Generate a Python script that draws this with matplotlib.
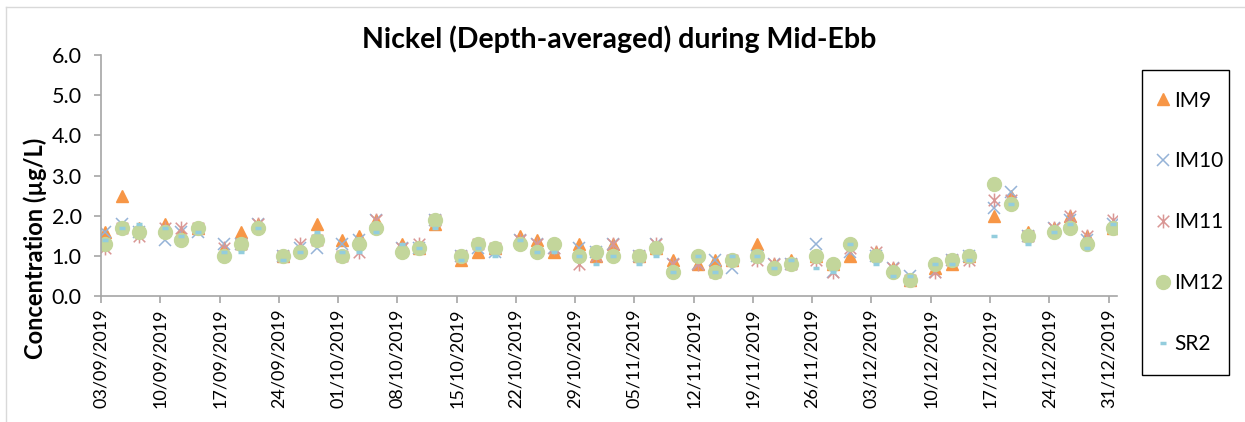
import numpy as np
import pandas as pd
import matplotlib
matplotlib.use("Agg")
import matplotlib.pyplot as plt
import matplotlib.dates as mdates
from matplotlib.path import Path
from matplotlib.lines import Line2D
from matplotlib.patches import Rectangle

plt.rcParams['font.family'] = ['Lato', 'DejaVu Sans']

# sampling days (Tue / Thu / Sat)
dates = ["03/09/2019", "05/09/2019", "07/09/2019", "10/09/2019", "12/09/2019", "14/09/2019",
         "17/09/2019", "19/09/2019", "21/09/2019", "24/09/2019", "26/09/2019", "28/09/2019",
         "01/10/2019", "03/10/2019", "05/10/2019", "08/10/2019", "10/10/2019", "12/10/2019",
         "15/10/2019", "17/10/2019", "19/10/2019", "22/10/2019", "24/10/2019", "26/10/2019",
         "29/10/2019", "31/10/2019", "02/11/2019", "05/11/2019", "07/11/2019", "09/11/2019",
         "12/11/2019", "14/11/2019", "16/11/2019", "19/11/2019", "21/11/2019", "23/11/2019",
         "26/11/2019", "28/11/2019", "30/11/2019", "03/12/2019", "05/12/2019", "07/12/2019",
         "10/12/2019", "12/12/2019", "14/12/2019", "17/12/2019", "19/12/2019", "21/12/2019",
         "24/12/2019", "26/12/2019", "28/12/2019", "31/12/2019"]

im9 = [1.6, 2.5, 1.7, 1.8, 1.6, 1.7, 1.2, 1.6, 1.8, 1.0, 1.2, 1.8,
       1.4, 1.5, 1.9, 1.3, 1.2, 1.8, 0.9, 1.1, 1.2, 1.5, 1.4, 1.1,
       1.3, 1.0, 1.3, 1.0, 1.2, 0.9, 0.8, 0.9, 0.9, 1.3, 0.8, 0.9,
       1.0, 0.8, 1.0, 1.1, 0.7, 0.4, 0.7, 0.8, 1.0, 2.0, 2.5, 1.6,
       1.7, 2.0, 1.5, 1.7]
im10 = [1.6, 1.8, 1.6, 1.4, 1.6, 1.6, 1.3, 1.3, 1.8, 1.0, 1.2, 1.2,
        1.3, 1.4, 1.9, 1.2, 1.2, 1.9, 1.0, 1.2, 1.1, 1.4, 1.3, 1.2,
        1.2, 1.1, 1.3, 1.0, 1.3, 0.8, 0.8, 0.9, 0.7, 1.0, 0.8, 0.8,
        1.3, 0.6, 1.1, 1.0, 0.7, 0.5, 0.6, 0.9, 1.0, 2.2, 2.6, 1.5,
        1.7, 1.9, 1.4, 1.8]
im11 = [1.2, 1.7, 1.5, 1.7, 1.7, 1.7, 1.2, 1.3, 1.8, 1.0, 1.3, 1.4,
        1.0, 1.1, 1.9, 1.2, 1.3, 1.9, 1.0, 1.3, 1.2, 1.4, 1.3, 1.2,
        0.8, 1.0, 1.3, 1.0, 1.3, 0.8, 0.8, 0.6, 0.9, 0.9, 0.8, 0.8,
        0.9, 0.6, 1.2, 1.1, 0.7, 0.4, 0.6, 0.9, 0.9, 2.4, 2.4, 1.5,
        1.7, 2.0, 1.5, 1.9]
im12 = [1.3, 1.7, 1.6, 1.6, 1.4, 1.7, 1.0, 1.3, 1.7, 1.0, 1.1, 1.4,
        1.0, 1.3, 1.7, 1.1, 1.2, 1.9, 1.0, 1.3, 1.2, 1.3, 1.1, 1.3,
        1.0, 1.1, 1.0, 1.0, 1.2, 0.6, 1.0, 0.6, 0.9, 1.0, 0.7, 0.8,
        1.0, 0.8, 1.3, 1.0, 0.6, 0.4, 0.8, 0.9, 1.0, 2.8, 2.3, 1.5,
        1.6, 1.7, 1.3, 1.7]
sr2 = [1.4, 1.7, 1.8, 1.7, 1.5, 1.6, 1.1, 1.1, 1.7, 0.9, 1.1, 1.6,
       1.1, 1.1, 1.6, 1.3, 1.2, 1.7, 0.9, 1.2, 1.0, 1.4, 1.1, 1.1,
       1.0, 0.8, 1.0, 0.8, 1.0, 0.6, 1.0, 0.6, 1.0, 1.0, 0.7, 0.9,
       0.7, 0.6, 1.3, 0.8, 0.5, 0.5, 0.8, 0.8, 0.9, 1.5, 2.3, 1.3,
       1.6, 1.8, 1.2, 1.8]

# asterisk marker: X plus a vertical bar
star = Path([(-0.5, -0.5), (0.5, 0.5), (-0.5, 0.5), (0.5, -0.5), (0, -0.6), (0, 0.6)],
            [Path.MOVETO, Path.LINETO, Path.MOVETO, Path.LINETO, Path.MOVETO, Path.LINETO])

series = [
    ("IM9", im9, dict(marker='^', ms=9, color='#F79646', mec='#F79646')),
    ("IM10", im10, dict(marker='x', ms=8, mew=1.1, color='#95B3D7')),
    ("IM11", im11, dict(marker=star, ms=10, mew=1.1, color='#D99694', mfc='none')),
    ("IM12", im12, dict(marker='o', ms=10, color='#C3D69B', mec='#C3D69B')),
    ("SR2", sr2, dict(marker='_', ms=5, mew=2.5, color='#93CDDD')),
]

x = mdates.date2num(pd.to_datetime(dates, dayfirst=True)) + 0.5
ticks = mdates.date2num(pd.date_range("2019-09-03", "2019-12-31", freq="7D"))

fig = plt.figure(figsize=(12.45, 4.22), dpi=100)
ax = fig.add_axes([101 / 1245, 1 - 296 / 422, 1016 / 1245, 241 / 422])

handles = []
for name, vals, style in series:
    ax.plot(x, vals, linestyle='none', **style)
    handles.append(Line2D([], [], linestyle='none', label=name, **style))

ax.set_xlim(mdates.date2num(pd.Timestamp("2019-09-03")), mdates.date2num(pd.Timestamp("2020-01-01")))
ax.set_ylim(0, 6)
ax.set_yticks(np.arange(0, 6.1, 1.0))
ax.set_yticklabels([f"{v:.1f}" for v in np.arange(0, 6.1, 1.0)], fontsize=15.5)
ax.set_xticks(ticks)
ax.set_xticklabels([mdates.num2date(t).strftime("%d/%m/%Y") for t in ticks],
                   rotation=90, fontsize=13)

for side in ['top', 'right']:
    ax.spines[side].set_visible(False)
for side in ['left', 'bottom']:
    ax.spines[side].set_color('#a6a6a6')
    ax.spines[side].set_linewidth(1.2)
ax.tick_params(axis='both', direction='out', length=5, color='#a6a6a6', width=1.2)
ax.tick_params(axis='x', pad=4)
ax.tick_params(axis='y', pad=9)

fig.text(619 / 1245, 1 - 39 / 422, "Nickel (Depth-averaged) during Mid-Ebb",
         ha='center', va='center', fontsize=20.5, fontweight='bold')
fig.text(35 / 1245, 1 - 248 / 422, "Concentration (\u00b5g/L)", rotation=90,
         ha='center', va='center', fontsize=17, fontweight='bold')

leg = fig.legend(handles=handles, loc='upper left', bbox_to_anchor=(1140 / 1245, 1 - 76 / 422),
                 fontsize=15, labelspacing=1.96, borderpad=0.2, handlelength=0.8,
                 handletextpad=0.15, frameon=False)

# legend box
fig.add_artist(Rectangle((1142 / 1245, 1 - 375 / 422), 87 / 1245, 305 / 422,
                         transform=fig.transFigure, fill=False, edgecolor='black', lw=1.0))

# chart frame
fig.add_artist(Line2D([6 / 1245, 6 / 1245], [0, 1 - 7 / 422], color='#d9d9d9', lw=1))
fig.add_artist(Line2D([6 / 1245, 1], [1 - 7 / 422, 1 - 7 / 422], color='#d9d9d9', lw=1))

fig.savefig("out.png", dpi=100)
